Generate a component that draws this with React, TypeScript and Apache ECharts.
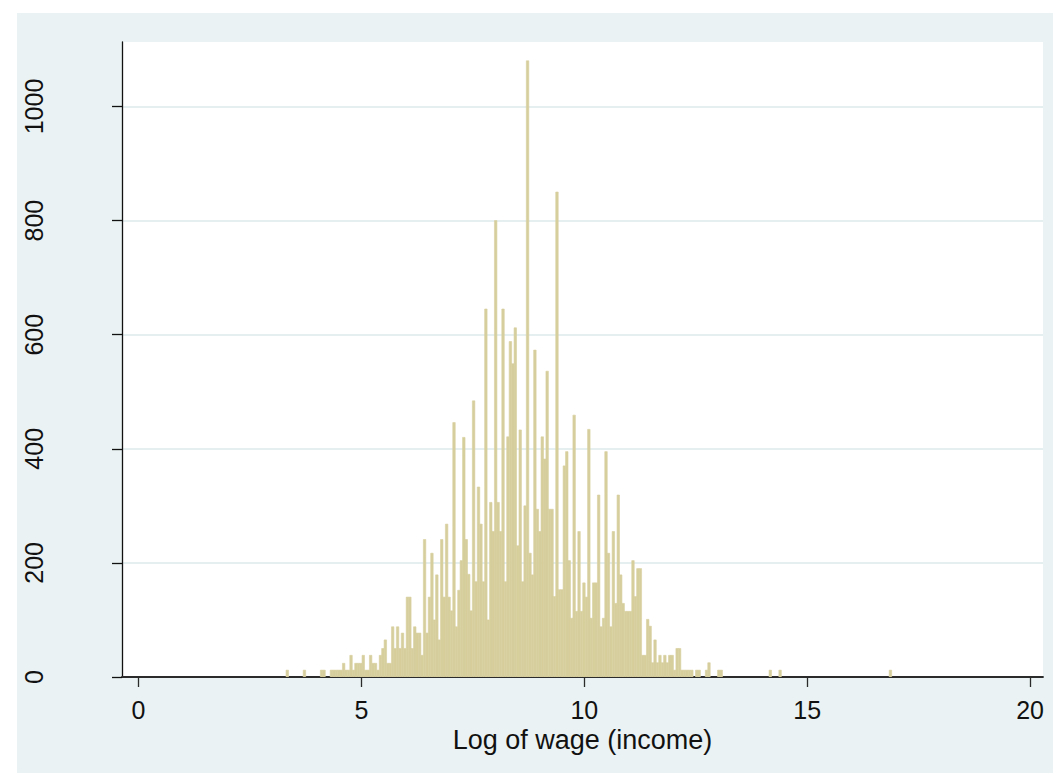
import { useEffect, useRef } from "react";
import * as echarts from "echarts";

// Histogram of log wage: frequency per bin, bins of equal width starting at BIN_START
const BIN_START = 3.31;
const BIN_WIDTH = 0.055;
const counts = [
  12, 0, 0, 0, 0, 0, 0, 12, 0, 0,
  0, 0, 0, 0, 12, 12, 0, 0, 12, 12,
  12, 12, 12, 24, 12, 12, 38, 12, 24, 24,
  24, 38, 12, 12, 38, 24, 24, 12, 38, 50,
  65, 24, 24, 88, 50, 88, 50, 77, 50, 140,
  140, 50, 88, 77, 77, 38, 241, 77, 140, 217,
  100, 179, 65, 241, 140, 268, 140, 116, 446, 88,
  152, 204, 420, 241, 180, 116, 484, 167, 333, 268,
  167, 645, 100, 306, 255, 800, 306, 255, 645, 167,
  421, 588, 549, 612, 230, 433, 167, 300, 1080, 217,
  179, 573, 294, 255, 421, 382, 536, 294, 294, 141,
  850, 153, 153, 370, 395, 204, 103, 459, 115, 255,
  115, 165, 140, 434, 103, 165, 165, 319, 88, 103,
  395, 217, 88, 255, 129, 319, 179, 129, 115, 115,
  115, 204, 141, 190, 190, 38, 38, 101, 89, 25,
  65, 25, 38, 25, 38, 25, 38, 38, 12, 50,
  50, 12, 12, 12, 12, 12, 0, 12, 12, 0,
  0, 12, 25, 0, 0, 0, 12, 12, 0, 0,
  0, 0, 0, 0, 0, 0, 0, 0, 0, 0,
  0, 0, 0, 0, 0, 0, 0, 12, 0, 0,
  0, 12, 0, 0, 0, 0, 0, 0, 0, 0,
  0, 0, 0, 0, 0, 0, 0, 0, 0, 0,
  0, 0, 0, 0, 0, 0, 0, 0, 0, 0,
  0, 0, 0, 0, 0, 0, 0, 0, 0, 0,
  0, 0, 0, 0, 0, 0, 12,
];

const xTicks = [0, 5, 10, 15, 20];
const yTicks = [0, 200, 400, 600, 800, 1000];

const X_MIN = -0.37;
const X_MAX = 20.29;
const Y_MAX = 1113;

const FONT = "'Liberation Sans', Arial, Helvetica, sans-serif";
const BAR = "#d6cf9d";
const BG = "#eaf2f3";

export default function App() {
  const ref = useRef<HTMLDivElement>(null);

  useEffect(() => {
    if (!ref.current) return;
    const chart = echarts.init(ref.current, undefined, { renderer: "svg" });

    const bins = counts
      .map((c, i) => [BIN_START + i * BIN_WIDTH, BIN_START + (i + 1) * BIN_WIDTH, c])
      .filter((d) => d[2] > 0);

    chart.setOption({
      animation: false,
      backgroundColor: "#ffffff",
      textStyle: { fontFamily: FONT },
      graphic: [
        {
          type: "rect",
          z: -10,
          silent: true,
          shape: { x: 17, y: 13, width: 1036, height: 760 },
          style: { fill: BG },
        },
      ],
      grid: {
        left: 122,
        top: 42,
        width: 921,
        height: 635,
        show: true,
        backgroundColor: "#ffffff",
        borderWidth: 0,
      },
      xAxis: {
        type: "value",
        min: X_MIN,
        max: X_MAX,
        name: "Log of wage (income)",
        nameLocation: "middle",
        nameGap: 44,
        nameTextStyle: { fontSize: 27, color: "#111111", fontFamily: FONT },
        axisLine: { show: true, onZero: false, lineStyle: { color: "#2b2b2b", width: 1.8 } },
        axisTick: {
          show: true,
          length: 10,
          customValues: xTicks,
          lineStyle: { color: "#2b2b2b", width: 1.3 },
        },
        axisLabel: {
          customValues: xTicks,
          margin: 20,
          fontSize: 25,
          color: "#111111",
          fontFamily: FONT,
          formatter: (v: number) => String(v),
        },
        splitLine: { show: false },
      },
      yAxis: {
        type: "value",
        min: 0,
        max: Y_MAX,
        axisLine: { show: true, onZero: false, lineStyle: { color: "#111111", width: 1.3 } },
        axisTick: {
          show: true,
          length: 10,
          customValues: yTicks,
          lineStyle: { color: "#111111", width: 1.3 },
        },
        axisLabel: {
          customValues: yTicks,
          rotate: 90,
          margin: 76,
          fontSize: 25,
          color: "#111111",
          fontFamily: FONT,
          formatter: (v: number) => String(v),
        },
        splitLine: { show: true, lineStyle: { color: "#e6eff0", width: 1.8 } },
      },
      series: [
        {
          type: "custom",
          clip: true,
          encode: { x: [0, 1], y: 2 },
          data: bins,
          renderItem: (_params: any, api: any) => {
            const x0 = api.value(0);
            const x1 = api.value(1);
            const c = api.value(2);
            const top = api.coord([x0, c]);
            const bottom = api.coord([x1, 0]);
            return {
              type: "rect",
              shape: {
                x: top[0],
                y: top[1],
                width: bottom[0] - top[0],
                height: bottom[1] - top[1],
              },
              style: { fill: BAR, stroke: BAR, lineWidth: 0.6 },
            };
          },
        },
      ],
    });

    return () => chart.dispose();
  }, []);

  return (
    <div
      ref={ref}
      style={{ position: "absolute", left: 0, top: 0, width: 1061, height: 774 }}
    />
  );
}
